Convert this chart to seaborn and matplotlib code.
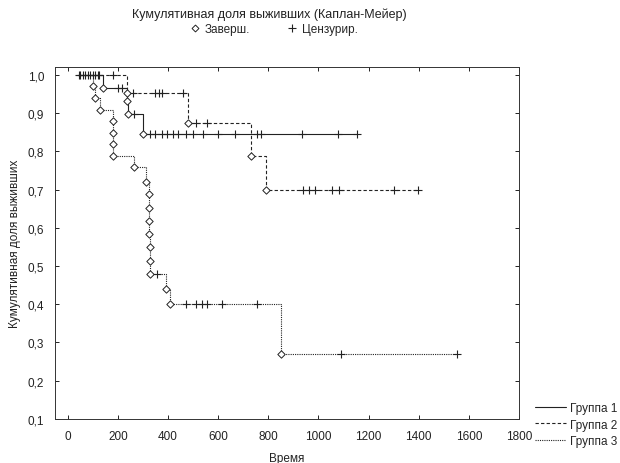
import numpy as np
import pandas as pd
import seaborn as sns
import matplotlib.pyplot as plt
from matplotlib.lines import Line2D
from matplotlib.ticker import FuncFormatter, MultipleLocator

# --- data (time, survival after each event) ---
g1_start = 40
g1_event_t = [140, 237, 240, 300]
g1_event_s = [0.966, 0.931, 0.897, 0.845]
g1_cens_t = [45, 70, 90, 110, 125, 200, 215, 265, 330, 350, 375, 395, 420, 440,
             470, 500, 540, 598, 666, 754, 770, 936, 1080, 1155]

g2_start = 40
g2_event_t = [235, 480, 733, 789]
g2_event_s = [0.952, 0.875, 0.789, 0.70]
g2_cens_t = [50, 80, 100, 120, 180, 260, 350, 365, 375, 460, 510, 555,
             937, 962, 988, 1054, 1083, 1301, 1397]

g3_start = 40
g3_event_t = [100, 110, 130, 180, 180, 180, 180, 265, 313, 325, 325, 325, 325,
              330, 330, 330, 391, 407, 850]
g3_event_s = [0.970, 0.939, 0.909, 0.879, 0.848, 0.818, 0.788, 0.758, 0.721,
              0.689, 0.653, 0.618, 0.584, 0.549, 0.514, 0.480, 0.440, 0.400, 0.270]
g3_cens_t = [60, 357, 471, 513, 537, 557, 614, 754, 1090, 1551]

groups = ["Группа 1", "Группа 2", "Группа 3"]
starts = [g1_start, g2_start, g3_start]
ev_t = [g1_event_t, g2_event_t, g3_event_t]
ev_s = [g1_event_s, g2_event_s, g3_event_s]
cens = [g1_cens_t, g2_cens_t, g3_cens_t]

# build step curves and marker tables
curve_rows, event_rows, cens_rows = [], [], []
for g, t0, et, es, ct in zip(groups, starts, ev_t, ev_s, cens):
    t_end = max(max(et), max(ct))
    pts = [(t0, 1.0)] + list(zip(et, es)) + [(t_end, es[-1])]
    for i, (t, s) in enumerate(pts):
        curve_rows.append({"group": g, "order": i, "t": t, "s": s})
    for t, s in zip(et, es):
        event_rows.append({"group": g, "t": t, "s": s})
    et_arr = np.array(et)
    for t in ct:
        k = np.searchsorted(et_arr, t, side="right")
        s = 1.0 if k == 0 else es[k - 1]
        cens_rows.append({"group": g, "t": t, "s": s})

curves = pd.DataFrame(curve_rows)
events = pd.DataFrame(event_rows)
censored = pd.DataFrame(cens_rows)

sns.set_style("ticks")
plt.rcParams["font.family"] = ["Liberation Sans", "DejaVu Sans"]
plt.rcParams["font.size"] = 8.5
ink = "#222222"

fig = plt.figure(figsize=(6.2, 4.64), dpi=100)
ax = fig.add_axes([0.089, 0.095, 0.748, 0.758])

dash_map = {"Группа 1": "", "Группа 2": (3, 2), "Группа 3": (1, 1)}
sns.lineplot(data=curves, x="t", y="s", style="group", dashes=dash_map,
             units="group", estimator=None, sort=False, drawstyle="steps-post",
             color=ink, linewidth=0.8, legend=False, ax=ax)
sns.scatterplot(data=censored, x="t", y="s", marker="+", s=30, color=ink,
                linewidth=0.8, legend=False, ax=ax, zorder=3)
sns.scatterplot(data=events, x="t", y="s", marker="D", s=14, facecolor="white",
                edgecolor=ink, linewidth=0.7, legend=False, ax=ax, zorder=4)

ax.set_xlim(-50, 1800)
ax.set_ylim(0.1, 1.02)
ax.xaxis.set_major_locator(MultipleLocator(200))
ax.yaxis.set_major_locator(MultipleLocator(0.1))
ax.yaxis.set_major_formatter(FuncFormatter(lambda v, p: f"{v:.1f}".replace(".", ",")))
ax.tick_params(direction="in", length=3, width=0.7, top=True, right=True,
               labelsize=8.5, colors=ink)
ax.tick_params(axis="x", pad=8)
ax.tick_params(axis="y", pad=8)
for sp in ax.spines.values():
    sp.set_linewidth(0.7)
    sp.set_color("#333333")
ax.set_xlabel("Время", fontsize=8.5, labelpad=7, color=ink)
ax.set_ylabel("Кумулятивная доля выживших", fontsize=8.5, labelpad=5, color=ink)

fig.text(0.435, 0.968, "Кумулятивная доля выживших (Каплан-Мейер)",
         ha="center", va="center", fontsize=9, color=ink)

top_handles = [
    Line2D([], [], linestyle="none", marker="D", markersize=3.5,
           markerfacecolor="white", markeredgecolor=ink, markeredgewidth=0.7),
    Line2D([], [], linestyle="none", marker="+", markersize=6,
           color=ink, markeredgewidth=0.8),
]
fig.legend(top_handles, ["Заверш.", "Цензурир."], loc="center",
           bbox_to_anchor=(0.44, 0.935), ncol=2, frameon=False, fontsize=8.5,
           handletextpad=0.2, columnspacing=3.0, handlelength=1.2)

grp_handles = [Line2D([], [], color=ink, linewidth=0.8, linestyle="-"),
               Line2D([], [], color=ink, linewidth=0.8, dashes=(3, 2)),
               Line2D([], [], color=ink, linewidth=0.8, dashes=(1, 1))]
fig.legend(grp_handles, groups, loc="lower left", bbox_to_anchor=(0.855, 0.025),
           frameon=False, fontsize=8.5, handlelength=2.6, handletextpad=0.4,
           labelspacing=0.35, borderaxespad=0)

fig.savefig("out.png", dpi=100)
